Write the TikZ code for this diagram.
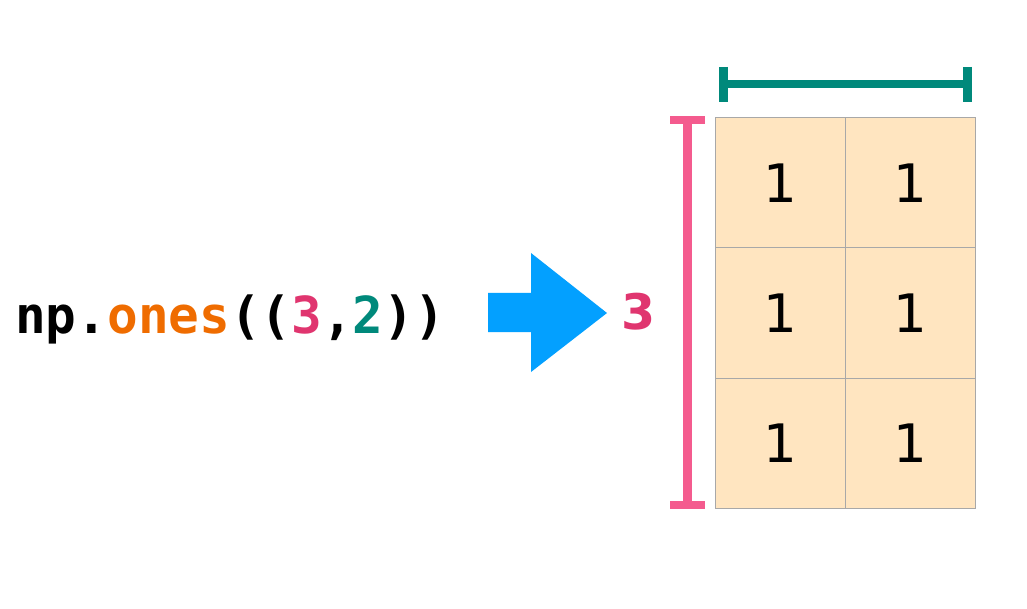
\documentclass[tikz,border=0pt]{standalone}
\usepackage{fontspec}
\setmainfont{DejaVu Sans}
\newfontfamily\codefont{DejaVu Sans Mono}
\definecolor{codeorange}{HTML}{EF6C00}
\definecolor{dimpink}{HTML}{E0356F}
\definecolor{barpink}{HTML}{F45B8E}
\definecolor{dimteal}{HTML}{00897B}
\definecolor{arrowblue}{HTML}{03A0FF}
\definecolor{cellfill}{HTML}{FFE5C0}
\definecolor{cellline}{HTML}{A8A8A8}
\tikzset{
  cell/.style={draw=cellline, line width=1.2pt, fill=cellfill, minimum width=130pt,
    minimum height=130.3pt, inner sep=0pt, anchor=north west,
    font=\fontsize{53}{60}\selectfont},
  codetext/.style={font=\codefont\bfseries\fontsize{51}{60}\selectfont, inner sep=0pt},
  dimbar/.style={line width=9pt},
}
\begin{document}
\begin{tikzpicture}[x=1pt, y=-1pt]
  \useasboundingbox (0,0) rectangle (1027,609);

  % the call
  \node[codetext, anchor=base west] (code) at (15,334)
    {np.\textcolor{codeorange}{ones}((\textcolor{dimpink}{3},\textcolor{dimteal}{2}))};

  % big block arrow
  \fill[arrowblue] (488,293) -- (531,293) -- (531,253) -- (607,313)
    -- (531,372) -- (531,332) -- (488,332) -- cycle;
  \coordinate (arrow) at (548,313);

  % 3 x 2 array of ones
  \foreach \r in {0,1,2} {
    \foreach \c in {0,1} {
      \node[cell] (c\r\c) at ({715+130*\c},{117+130.3*\r}) {1};
    }
  }

  % row dimension
  \coordinate (rt) at (687.5,120.5);
  \coordinate (rb) at (687.5,504.5);
  \draw[barpink, dimbar] (rt) -- (rb);
  \draw[barpink, line width=8pt] (670,120.5) -- (705,120.5);
  \draw[barpink, line width=8pt] (670,504.5) -- (705,504.5);
  \node[text=dimpink, font=\bfseries\fontsize{49}{60}\selectfont, inner sep=0pt]
    (rows) at (638.5,312) {3};

  % column dimension
  \coordinate (cl) at (723.5,84.5);
  \coordinate (cr) at (967.5,84.5);
  \draw[dimteal, line width=8pt] (cl) -- (cr);
  \draw[dimteal, line width=9pt] (723.5,67) -- (723.5,102);
  \draw[dimteal, line width=9pt] (967.5,67) -- (967.5,102);
\end{tikzpicture}
\end{document}
